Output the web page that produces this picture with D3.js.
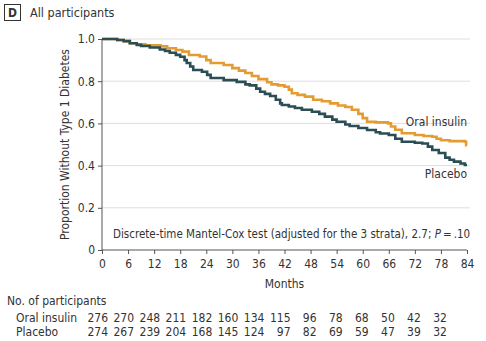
<!DOCTYPE html>
<html lang="en">
<head>
    <meta charset="UTF-8">
    <title>All participants</title>
    <script src="https://d3js.org/d3.v7.min.js"></script>
    <style>
        body { margin: 0; background: #fff; }
        svg text {
            font-family: "DejaVu Sans Condensed", "Liberation Sans Narrow", sans-serif;
            fill: #333;
        }
        .axis path, .axis line { stroke: #555; }
        .axis text { font-size: 12px; fill: #333; }
    </style>
</head>
<body>
    <svg width="486" height="341"></svg>
    <script>
        // Kaplan-Meier style step data (month, proportion)
        var placeboMonths = [0, 3.5, 5, 6.4, 8, 9, 11, 13.3, 14.5, 15.6, 17, 18, 19, 19.5, 20.3, 21, 23, 24.2, 25, 28, 31, 33, 34, 35.5, 36.4, 37.5, 38.7, 40, 41, 41.4, 43, 44.4, 46, 48.3, 50, 51.3, 53, 54, 56, 57, 59, 61, 63, 64, 66, 67.5, 69, 72, 73.7, 75, 76, 77.5, 79, 80, 81, 82.5, 83.5, 84];
        var placeboSurv = [1.0, 0.995, 0.99, 0.98, 0.972, 0.967, 0.96, 0.95, 0.943, 0.935, 0.925, 0.916, 0.9, 0.886, 0.87, 0.853, 0.845, 0.83, 0.815, 0.805, 0.797, 0.785, 0.78, 0.765, 0.75, 0.74, 0.73, 0.712, 0.695, 0.687, 0.68, 0.673, 0.665, 0.655, 0.645, 0.632, 0.618, 0.608, 0.595, 0.588, 0.578, 0.569, 0.558, 0.552, 0.545, 0.527, 0.513, 0.508, 0.505, 0.49, 0.474, 0.46, 0.438, 0.428, 0.419, 0.41, 0.403, 0.403];

        var insulinMonths = [0, 3.5, 5, 6.4, 8, 10, 13.5, 15, 17, 18.5, 20, 22.5, 24, 25, 28, 30, 31.5, 33, 34.5, 36, 38, 39, 40.5, 42, 43, 43.7, 45, 46.7, 48.6, 50.6, 52.5, 54.3, 56, 57.5, 59, 60, 61, 63, 65.8, 66.5, 67.5, 69, 72, 74, 76, 77, 78, 80, 83.5, 83.8, 84];
        var insulinSurv = [1.0, 0.995, 0.99, 0.98, 0.975, 0.97, 0.965, 0.956, 0.948, 0.94, 0.924, 0.917, 0.9, 0.886, 0.877, 0.862, 0.85, 0.839, 0.825, 0.81, 0.795, 0.785, 0.78, 0.774, 0.76, 0.743, 0.735, 0.727, 0.712, 0.705, 0.695, 0.685, 0.678, 0.665, 0.645, 0.625, 0.608, 0.605, 0.6, 0.585, 0.57, 0.553, 0.545, 0.54, 0.537, 0.527, 0.52, 0.516, 0.513, 0.497, 0.497];

        // numbers at risk
        var riskMonths = [0, 6, 12, 18, 24, 30, 36, 42, 48, 54, 60, 66, 72, 78];
        var riskInsulin = [276, 270, 248, 211, 182, 160, 134, 115, 96, 78, 68, 50, 42, 32];
        var riskPlacebo = [274, 267, 239, 204, 168, 145, 124, 97, 82, 69, 59, 47, 39, 32];

        var xTicks = d3.range(0, 85, 6);
        var yTicks = [0, 0.2, 0.4, 0.6, 0.8, 1.0];

        var margin = {top: 39, left: 102};
        var width = 365, height = 211;

        var svg = d3.select("svg");
        var g = svg.append("g")
            .attr("transform", "translate(" + margin.left + "," + margin.top + ")");

        var x = d3.scaleLinear().domain([0, 84]).range([0, width]);
        var y = d3.scaleLinear().domain([0, 1]).range([height, 0]);

        // panel title
        svg.append("rect")
            .attr("x", 4.5).attr("y", 4.5)
            .attr("width", 16).attr("height", 16)
            .attr("fill", "none").attr("stroke", "#333");
        svg.append("text")
            .attr("x", 12.5).attr("y", 17)
            .attr("text-anchor", "middle")
            .style("font-size", "12px")
            .style("font-weight", "bold")
            .text("D");
        svg.append("text")
            .attr("x", 30).attr("y", 17)
            .style("font-size", "12.5px")
            .text("All participants");

        // gridlines
        g.append("g")
            .selectAll("line")
            .data(yTicks.filter(function(d) { return d > 0; }))
            .enter()
            .append("line")
            .attr("x1", 0).attr("x2", width + 3)
            .attr("y1", function(d) { return y(d); })
            .attr("y2", function(d) { return y(d); })
            .attr("stroke", "#dedede")
            .attr("stroke-width", 1);

        // axes
        var yAxis = g.append("g")
            .attr("class", "axis")
            .call(d3.axisLeft(y).tickValues(yTicks).tickSize(4).tickPadding(3)
                .tickFormat(function(d) { return d === 0 ? "0" : d3.format(".1f")(d); }));
        yAxis.select(".domain").attr("d", "M0," + (height + 0.5) + "V0");

        var xAxis = g.append("g")
            .attr("class", "axis")
            .attr("transform", "translate(0," + height + ")")
            .call(d3.axisBottom(x).tickValues(xTicks).tickSize(4).tickPadding(5));
        xAxis.select(".domain").attr("d", "M0,0H" + width);

        // curves
        var line = d3.line()
            .x(function(d) { return x(d[0]); })
            .y(function(d) { return y(d[1]); })
            .curve(d3.curveStepAfter);

        var insulinData = d3.zip(insulinMonths, insulinSurv);
        var placeboData = d3.zip(placeboMonths, placeboSurv);

        g.append("path")
            .datum(insulinData)
            .attr("fill", "none")
            .attr("stroke", "#e49c32")
            .attr("stroke-width", 2.6)
            .attr("d", line);

        g.append("path")
            .datum(placeboData)
            .attr("fill", "none")
            .attr("stroke", "#2a4e54")
            .attr("stroke-width", 2.6)
            .attr("d", line);

        // curve labels
        g.append("text")
            .attr("x", width).attr("y", y(0.59))
            .attr("text-anchor", "end")
            .style("font-size", "12px")
            .text("Oral insulin");
        g.append("text")
            .attr("x", width).attr("y", y(0.34))
            .attr("text-anchor", "end")
            .style("font-size", "12px")
            .text("Placebo");

        // test annotation
        var note = g.append("text")
            .attr("x", 11).attr("y", y(0.056))
            .style("font-size", "11.5px");
        note.append("tspan").text("Discrete-time Mantel-Cox test (adjusted for the 3 strata), 2.7; ");
        note.append("tspan").style("font-style", "italic").text("P");
        note.append("tspan").text("\u2009=\u2009.10");

        // axis titles
        g.append("text")
            .attr("x", width / 2).attr("y", height + 38)
            .attr("text-anchor", "middle")
            .style("font-size", "12px")
            .text("Months");

        svg.append("text")
            .attr("transform", "translate(69," + (margin.top + height / 2) + ") rotate(-90)")
            .attr("text-anchor", "middle")
            .style("font-size", "12px")
            .text("Proportion Without Type 1 Diabetes");

        // risk table
        svg.append("text")
            .attr("x", 7).attr("y", 305)
            .style("font-size", "12px")
            .text("No. of participants");

        var rows = [
            {label: "Oral insulin", values: riskInsulin, y: 322},
            {label: "Placebo", values: riskPlacebo, y: 336}
        ];

        rows.forEach(function(r) {
            svg.append("text")
                .attr("x", 16).attr("y", r.y)
                .style("font-size", "12px")
                .text(r.label);
            svg.append("g")
                .selectAll("text")
                .data(r.values)
                .enter()
                .append("text")
                .attr("x", function(d, i) { return margin.left + x(riskMonths[i]) + 6; })
                .attr("y", r.y)
                .attr("text-anchor", "end")
                .style("font-size", "12px")
                .text(function(d) { return d; });
        });
    </script>
</body>
</html>
